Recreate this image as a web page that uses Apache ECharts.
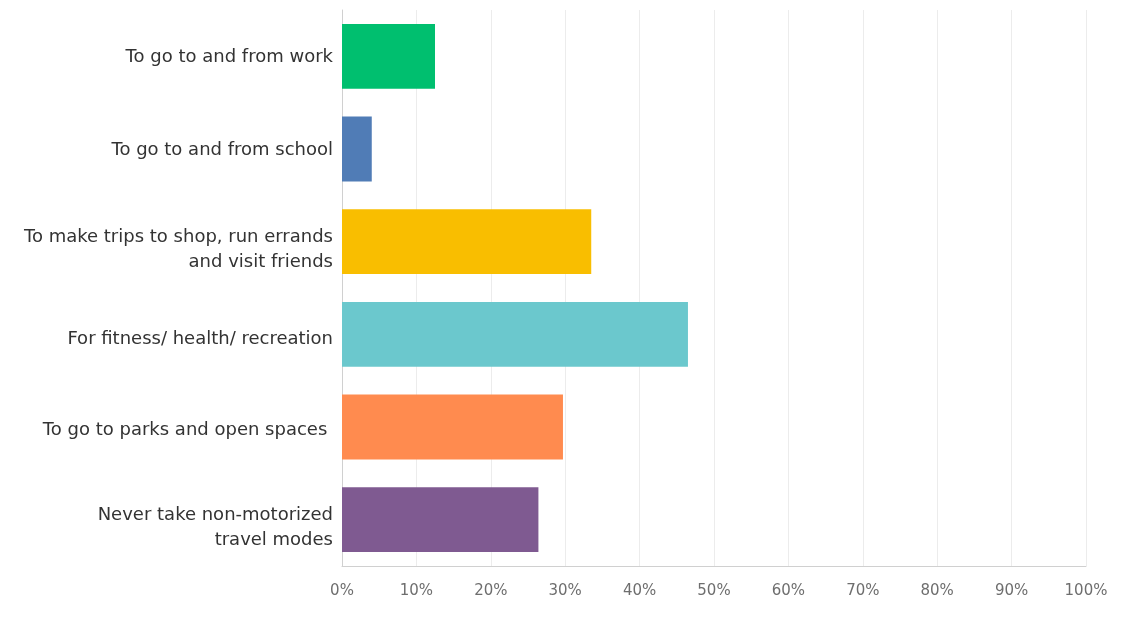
<!DOCTYPE html>
<html>
<head>
<meta charset="utf-8">
<script src="https://cdn.jsdelivr.net/npm/echarts@6/dist/echarts.min.js"></script>
<style>
  html, body { margin: 0; padding: 0; background: #fff; }
  #chart { width: 1132px; height: 621px; }
</style>
</head>
<body>
<div id="chart"></div>
<script>
// Reasons for using non-motorized travel modes (share of respondents, %)
const categories = [
  'To go to and from work',
  'To go to and from school',
  'To make trips to shop, run errands\nand visit friends',
  'For fitness/ health/ recreation',
  'To go to parks and open spaces ',
  'Never take non-motorized\ntravel modes'
];
const values = [12.5, 4.0, 33.5, 46.5, 29.7, 26.4];
const barColors = ['#00bf6f', '#507cb6', '#f9be00', '#6bc8cd', '#ff8b4f', '#7f5a91'];
const tickValues = [0, 10, 20, 30, 40, 50, 60, 70, 80, 90, 100];

const chart = echarts.init(document.getElementById('chart'), null, { renderer: 'canvas' });

// Each category label sits a little below its bar's centre line; a blank
// spacer line of height 2*drop on top pushes the text block down by `drop` px.
const labelDrop = [1, 1, 8, 5, 3, 8];
const labelRich = { t: { lineHeight: 25 } };
labelDrop.forEach((d, i) => {
  labelRich['sp' + i] = { fontSize: 1, lineHeight: Math.max(1, d * 2), height: Math.max(1, d * 2) };
});

chart.setOption({
  animation: false,
  backgroundColor: '#ffffff',
  grid: { left: 342, right: 46, top: 10, bottom: 55 },
  xAxis: {
    type: 'value',
    min: tickValues[0],
    max: tickValues[tickValues.length - 1],
    interval: 10,
    axisLine: { show: true, lineStyle: { color: '#d0d0d0', width: 1 } },
    axisTick: { show: false },
    splitLine: { show: true, lineStyle: { color: '#ececec', width: 1 } },
    axisLabel: {
      margin: 18,
      color: '#6e6e6e',
      fontFamily: 'DejaVu Sans',
      fontSize: 15,
      formatter: v => v + '%'
    }
  },
  yAxis: {
    type: 'category',
    data: categories,
    inverse: true,
    axisLine: { show: true, lineStyle: { color: '#d0d0d0', width: 1 } },
    axisTick: { show: false },
    axisLabel: {
      margin: 9,
      color: '#333333',
      fontFamily: 'DejaVu Sans',
      fontSize: 18,
      lineHeight: 25,
      align: 'right',
      formatter: (value, idx) =>
        '{sp' + idx + '| }\n' + value.split('\n').map(s => '{t|' + s + '}').join('\n'),
      rich: labelRich
    }
  },
  series: [{
    type: 'bar',
    data: values.map((v, i) => ({ value: v, itemStyle: { color: barColors[i] } })),
    barCategoryGap: '30%'
  }]
});
</script>
</body>
</html>
